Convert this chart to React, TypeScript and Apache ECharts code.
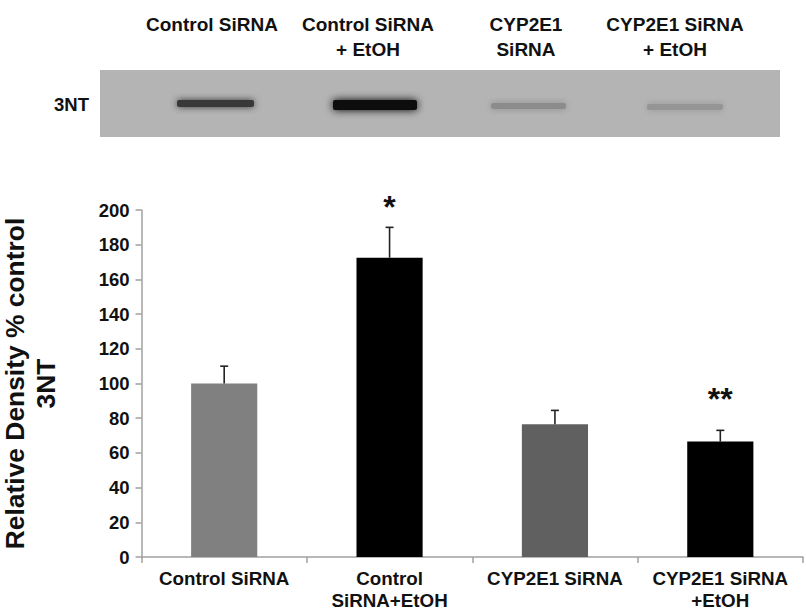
import React, { useEffect, useRef } from "react";
import * as echarts from "echarts";

const categories = ["Control SiRNA", "Control\nSiRNA+EtOH", "CYP2E1 SiRNA", "CYP2E1 SiRNA\n+EtOH"];
const values = [100, 172.5, 76.5, 66.5];
const errors = [10, 17.5, 8, 6.5];
const barColors = ["#808080", "#000000", "#606060", "#000000"];
const marks = ["", "*", "", "**"];
const markValues = [0, 201.5, 0, 91];
const ticks = { min: 0, max: 200, interval: 20 };
const blotLabels = ["Control SiRNA", "Control SiRNA\n+ EtOH", "CYP2E1\nSiRNA", "CYP2E1 SiRNA\n+ EtOH"];
const blotLabelX = [212, 368, 526, 675];
const yName = "Relative Density % control\n3NT";
const bands = [
  { x: 177, y: 100, w: 77, h: 7, fill: "#383838", blur: 7 },
  { x: 333, y: 100, w: 84, h: 10, fill: "#0a0a0a", blur: 8 },
  { x: 491, y: 103, w: 75, h: 6, fill: "#8c8c8c", blur: 7 },
  { x: 647, y: 104, w: 76, h: 6, fill: "#959595", blur: 7 },
];
const FONT = '"Liberation Sans", Arial, sans-serif';

export default function App() {
  const ref = useRef<HTMLDivElement>(null);
  useEffect(() => {
    document.body.style.margin = "0";
    const chart = echarts.init(ref.current!, null, { renderer: "svg" });
    chart.setOption({
      animation: false,
      backgroundColor: "#ffffff",
      grid: { left: 141.5, top: 210, right: 3, bottom: 57, containLabel: false, outerBoundsMode: "none" },
      xAxis: {
        type: "category",
        data: categories,
        axisLine: { lineStyle: { color: "#a0a0a0", width: 1.5 } },
        axisTick: { show: true, alignWithLabel: false, length: 6, lineStyle: { color: "#a0a0a0", width: 1.5 } },
        axisLabel: { color: "#111", fontFamily: FONT, fontWeight: "bold", fontSize: 18.8, lineHeight: 22, margin: 10, interval: 0 },
      },
      yAxis: {
        type: "value",
        ...ticks,
        name: yName,
        nameLocation: "middle",
        nameGap: 80,
        nameRotate: 90,
        nameTextStyle: { color: "#111", fontFamily: FONT, fontWeight: "bold", fontSize: 26.4, lineHeight: 31 },
        splitLine: { show: false },
        axisLine: { show: true, lineStyle: { color: "#a0a0a0", width: 1.5 } },
        axisTick: { show: true, length: 6, lineStyle: { color: "#a0a0a0", width: 1.5 } },
        axisLabel: { color: "#111", fontFamily: FONT, fontWeight: "bold", fontSize: 18.5, margin: 12 },
      },
      series: [
        {
          type: "bar",
          barWidth: "40%",
          data: values.map((v, i) => ({ value: v, itemStyle: { color: barColors[i] } })),
        },
        {
          type: "custom",
          data: values.map((v, i) => [i, v, v + errors[i]]),
          encode: { x: 0, y: 2 },
          z: 3,
          renderItem: (_p: any, api: any) => {
            const low = api.coord([api.value(0), api.value(1)]);
            const high = api.coord([api.value(0), api.value(2)]);
            const style = { stroke: "#222", lineWidth: 1.6, fill: "none" };
            return {
              type: "group",
              children: [
                { type: "line", shape: { x1: low[0], y1: low[1], x2: high[0], y2: high[1] }, style },
                { type: "line", shape: { x1: low[0] - 4, y1: high[1], x2: low[0] + 4, y2: high[1] }, style },
              ],
            };
          },
        },
        {
          type: "custom",
          data: marks.map((m, i) => [i, markValues[i], m]),
          encode: { x: 0, y: 1 },
          z: 4,
          renderItem: (_p: any, api: any) => {
            const c = api.coord([api.value(0), api.value(1)]);
            return {
              type: "text",
              x: c[0],
              y: c[1],
              style: {
                text: marks[api.value(0)],
                fontFamily: FONT,
                fontWeight: "bold",
                fontSize: 32,
                fill: "#111",
                align: "center",
                verticalAlign: "middle",
              },
            };
          },
        },
      ],
      graphic: [
        { type: "rect", z: -2, shape: { x: 100, y: 70, width: 680, height: 67 }, style: { fill: "#b4b4b4" } },
        ...bands.map((b) => ({
          type: "rect",
          z: -1,
          shape: { x: b.x, y: b.y, width: b.w, height: b.h, r: 2 },
          style: { fill: b.fill, shadowBlur: b.blur, shadowColor: b.fill },
        })),
        ...blotLabels.map((t, i) => ({
          type: "text",
          x: blotLabelX[i],
          y: 12,
          style: { text: t, fontFamily: FONT, fontWeight: "bold", fontSize: 19, lineHeight: 25, fill: "#111", align: "center", verticalAlign: "top" },
        })),
        {
          type: "text",
          x: 54,
          y: 95,
          style: { text: "3NT", fontFamily: FONT, fontWeight: "bold", fontSize: 18.5, fill: "#111", align: "left" },
        },
      ],
    });
    return () => chart.dispose();
  }, []);
  return <div ref={ref} style={{ width: 806, height: 614, position: "absolute", left: 0, top: 0 }} />;
}
